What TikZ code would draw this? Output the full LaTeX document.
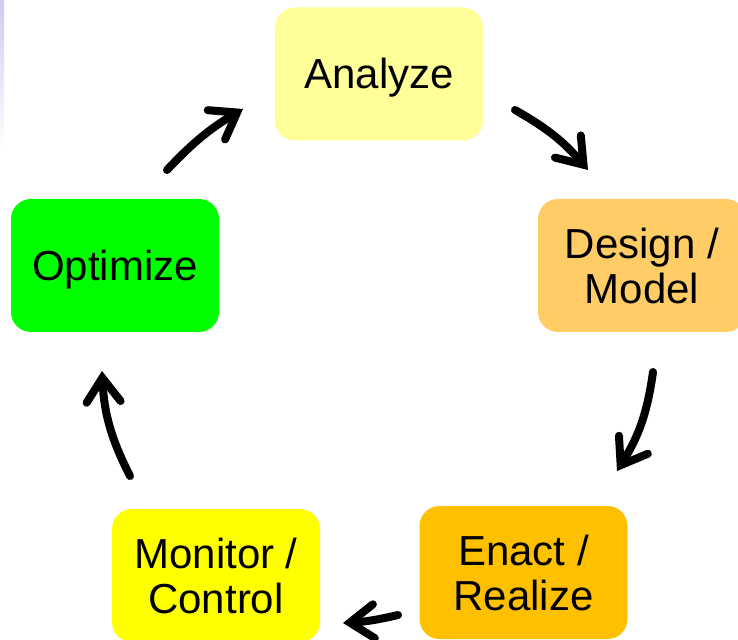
\documentclass[tikz,border=0pt]{standalone}
\usepackage{fontspec}
\setmainfont{Liberation Sans}
\usetikzlibrary{arrows.meta}
\definecolor{cAna}{HTML}{FFFF99}
\definecolor{cDes}{HTML}{FFCC66}
\definecolor{cEna}{HTML}{FFC000}
\definecolor{cMon}{HTML}{FFFF00}
\definecolor{cOpt}{HTML}{00FF00}
\tikzset{
  stagebox/.style={rounded corners=10pt, minimum width=104pt, minimum height=66.5pt,
    inner sep=0pt, align=center, font=\fontsize{21pt}{22.5pt}\selectfont, text=black},
  onelinebox/.style={stagebox, text height=15pt, text depth=0pt},
  cyclearrow/.style={line width=4pt, line cap=round, black,
    -{Straight Barb[length=12pt,width=17pt,line cap=round,line join=miter]}}
}
\begin{document}
\begin{tikzpicture}[x=0.5pt,y=0.5pt]
\useasboundingbox (0,0) rectangle (738,-640);
\shade[top color=gray!40!blue!25, bottom color=white] (0,0) rectangle (4,-150);
\node[onelinebox, fill=cAna] (ana) at (379,-74) {Analyze};
\node[stagebox, fill=cDes] (des) at (642,-265.5) {Design /\\Model};
\node[stagebox, fill=cEna] (ena) at (523.5,-572.5) {Enact /\\Realize};
\node[stagebox, fill=cMon] (mon) at (216,-575.5) {Monitor /\\Control};
\node[onelinebox, fill=cOpt] (opt) at (115,-265.5) {Optimize};
\coordinate (a1s) at (167,-170); \coordinate (a1e) at (243,-109);
\coordinate (a2s) at (515,-110); \coordinate (a2e) at (588,-170);
\coordinate (a3s) at (653,-372); \coordinate (a3e) at (617,-471);
\coordinate (a4s) at (398,-615); \coordinate (a4e) at (343,-623);
\coordinate (a5s) at (130,-476); \coordinate (a5e) at (102,-371);
\draw[cyclearrow] (a1s) to[bend left=8] (a1e);
\draw[cyclearrow] (a2s) to[bend left=10] (a2e);
\draw[cyclearrow] (a3s) to[bend left=12] (a3e);
\draw[cyclearrow] (a4s) to[bend left=5] (a4e);
\draw[cyclearrow] (a5s) to[bend left=12] (a5e);
\end{tikzpicture}
\end{document}
